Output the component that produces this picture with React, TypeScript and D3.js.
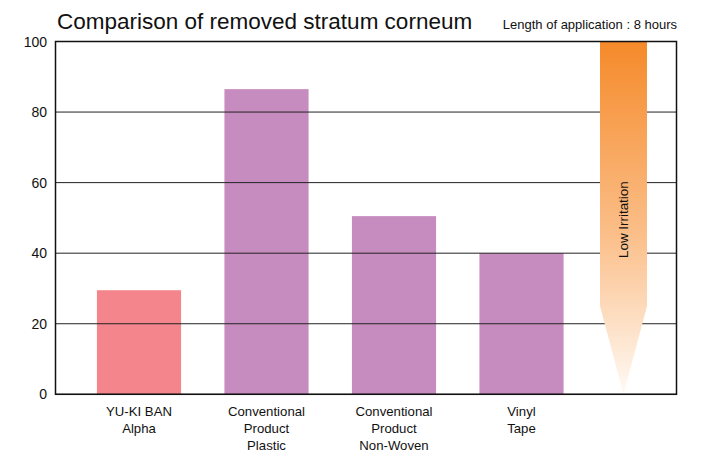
import React from 'react';
import * as d3 from 'd3';

const categories = ['YU-KI BAN\nAlpha', 'Conventional\nProduct\nPlastic', 'Conventional\nProduct\nNon-Woven', 'Vinyl\nTape'];
const values = [29.5, 86.5, 50.5, 40];
const barColors = ['#f4858c', '#c78cbf', '#c78cbf', '#c78cbf'];
const yTicks = [0, 20, 40, 60, 80, 100];
// arrow: from 100 down to shaft end at 25, tip at 0
const arrowLevels = [100, 25, 0];

export default function App() {
  const width = 703, height = 453;
  const left = 55.5, right = 676.5, top = 41.5, bottom = 394.3;
  const font = 'Helvetica, "Liberation Sans", Arial, sans-serif';

  const y = d3.scaleLinear().domain([0, 100]).range([bottom, top]);
  const x = d3.scaleBand<string>()
    .domain(categories)
    .range([75.25, 585.25])
    .paddingInner(0.34)
    .paddingOuter(0.17);

  const ax0 = 600, ax1 = 647, axc = (ax0 + ax1) / 2;
  const arrowPath = d3.line()([
    [ax0, y(arrowLevels[0])],
    [ax1, y(arrowLevels[0])],
    [ax1, y(arrowLevels[1])],
    [axc, y(arrowLevels[2])],
    [ax0, y(arrowLevels[1])],
  ]) + 'Z';

  return (
    <svg width={width} height={height} style={{ position: 'absolute', left: 0, top: 0 }} fontFamily={font}>
      <defs>
        <linearGradient id="arrowGrad" x1="0" y1="0" x2="0" y2="1">
          <stop offset="0" stopColor="#f58a2a" />
          <stop offset="0.55" stopColor="#fbbf8a" />
          <stop offset="1" stopColor="#fffaf5" />
        </linearGradient>
      </defs>
      <rect width={width} height={height} fill="#fff" />
      <text x={57} y={28.5} fontSize={22.5} fill="#111">Comparison of removed stratum corneum</text>
      <text x={677} y={29} fontSize={13} textAnchor="end" fill="#111">Length of application : 8 hours</text>

      {categories.map((c, i) => (
        <rect key={c} x={x(c)} y={y(values[i])} width={x.bandwidth()} height={y(0) - y(values[i])} fill={barColors[i]} />
      ))}

      {yTicks.map(t => (
        <g key={t}>
          <line x1={left} x2={right} y1={y(t)} y2={y(t)} stroke="#222" strokeWidth={1} />
          <text x={47} y={y(t)} dy="0.36em" fontSize={14} textAnchor="end" fill="#111">{t}</text>
        </g>
      ))}

      <path d={arrowPath} fill="url(#arrowGrad)" />
      <text transform={`translate(${axc + 4.5},${y(49.5)}) rotate(-90)`} fontSize={13.4} textAnchor="middle" fill="#111">Low Irritation</text>

      <rect x={left} y={top} width={right - left} height={bottom - top} fill="none" stroke="#111" strokeWidth={1.5} />

      {categories.map(c => (
        <text key={c} x={(x(c) ?? 0) + x.bandwidth() / 2} y={416} fontSize={13.2} textAnchor="middle" fill="#111">
          {c.split('\n').map((l, j) => (
            <tspan key={j} x={(x(c) ?? 0) + x.bandwidth() / 2} dy={j === 0 ? 0 : 17}>{l}</tspan>
          ))}
        </text>
      ))}
    </svg>
  );
}
